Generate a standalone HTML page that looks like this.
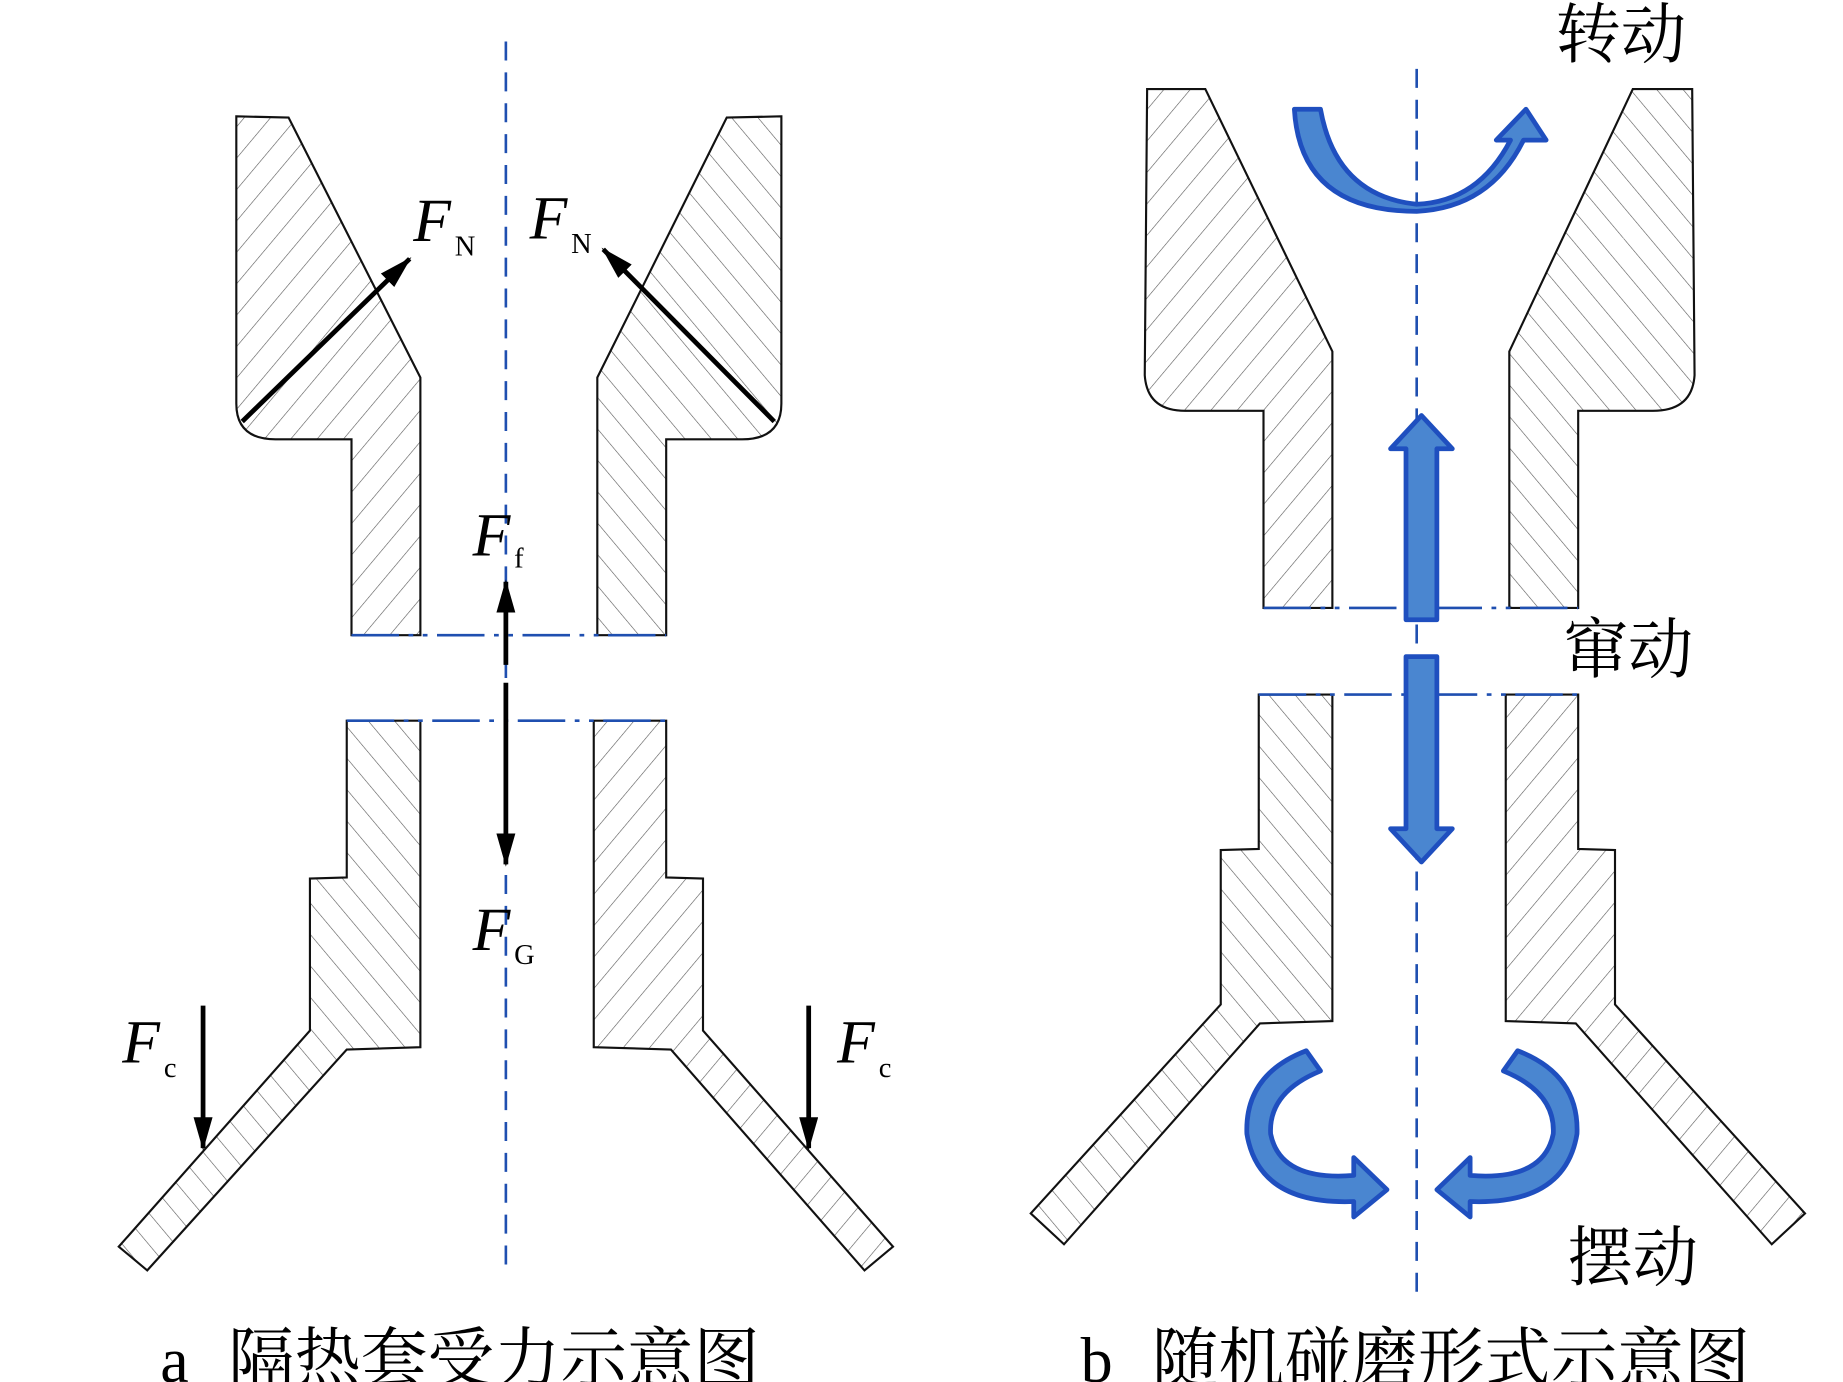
<!DOCTYPE html>
<html><head><meta charset="utf-8"><style>
html,body{margin:0;padding:0;background:#fff;}
svg{display:block;}
</style></head><body>
<svg width="1843" height="1382" viewBox="0 0 1552 1164" preserveAspectRatio="none" xmlns="http://www.w3.org/2000/svg">
<defs>
<pattern id="hr" patternUnits="userSpaceOnUse" width="17" height="17" patternTransform="rotate(40)">
<line x1="0" y1="0" x2="0" y2="17" stroke="#555" stroke-width="1"/></pattern>
<pattern id="hl" patternUnits="userSpaceOnUse" width="17" height="17" patternTransform="rotate(-40)">
<line x1="0" y1="0" x2="0" y2="17" stroke="#555" stroke-width="1"/></pattern>
<marker id="ah" markerWidth="28" markerHeight="16" refX="26" refY="8" orient="auto" markerUnits="userSpaceOnUse" viewBox="0 0 28 16">
<path d="M0,0 L28,8 L0,16 Z" fill="#000"/></marker>
</defs>
<g fill="none" stroke="#111" stroke-width="1.8">
<path fill="url(#hr)" d="M199,98 L243,99 L354,318 L354,535 L296,535 L296,370 L232,370 Q199,370 199,340 Z"/>
<path fill="url(#hl)" d="M658,98 L612,99 L503,318 L503,535 L561,535 L561,370 L625,370 Q658,370 658,340 Z"/>
<path fill="url(#hl)" d="M292,607 L354,607 L354,882 L292,884 L124,1070 L100,1050 L261,868 L261,740 L292,739 Z"/>
<path fill="url(#hr)" d="M500,607 L561,607 L561,739 L592,740 L592,868 L752,1050 L728,1070 L565,884 L500,882 Z"/>
<path fill="url(#hr)" d="M966,75 L1015,75 L1122,296 L1122,512 L1064,512 L1064,346 L998,346 Q966,346 964,316 Z"/>
<path fill="url(#hl)" d="M1425,75 L1375,75 L1271,296 L1271,512 L1329,512 L1329,346 L1392,346 Q1425,346 1427,316 Z"/>
<path fill="url(#hl)" d="M1060,585 L1122,585 L1122,860 L1061,862 L896,1048 L868,1022 L1028,846 L1028,716 L1060,715 Z"/>
<path fill="url(#hr)" d="M1268,585 L1329,585 L1329,715 L1360,716 L1360,846 L1520,1022 L1492,1048 L1327,862 L1268,860 Z"/>
</g>
<g stroke="#1f4fb0" stroke-width="2.2" fill="none">
<line x1="426" y1="35" x2="426" y2="1068" stroke-dasharray="16,10"/>
<line x1="1193" y1="58" x2="1193" y2="1090" stroke-dasharray="16,10"/>
<line x1="296" y1="535" x2="561" y2="535" stroke-dasharray="40,8,4,8,4,8"/>
<line x1="292" y1="607" x2="561" y2="607" stroke-dasharray="40,8,4,8,4,8"/>
<line x1="1064" y1="512" x2="1329" y2="512" stroke-dasharray="40,8,4,8,4,8"/>
<line x1="1060" y1="585" x2="1329" y2="585" stroke-dasharray="40,8,4,8,4,8"/>
</g>
<g stroke="#000" stroke-width="4" fill="none">
<line x1="204" y1="355" x2="345" y2="218" marker-end="url(#ah)"/>
<line x1="652" y1="355" x2="508" y2="210" marker-end="url(#ah)"/>
<line x1="426" y1="560" x2="426" y2="490" marker-end="url(#ah)"/>
<line x1="426" y1="575" x2="426" y2="728" marker-end="url(#ah)"/>
<line x1="171" y1="847" x2="171" y2="967" marker-end="url(#ah)"/>
<line x1="681" y1="847" x2="681" y2="967" marker-end="url(#ah)"/>
</g>
<g fill="#4a86d0" stroke="#1f4fbf" stroke-width="4" stroke-linejoin="round">
<path d="M1090,92 Q1095,178 1193,178 Q1255,175 1283,118 L1302,118 L1285,92 L1260,118 L1272,118 Q1245,170 1193,172 Q1125,165 1112,92 Z"/>
<path d="M1184,522 L1184,378 L1171,378 L1197,350 L1223,378 L1210,378 L1210,522 Z"/>
<path d="M1184,553 L1184,698 L1171,698 L1197,726 L1223,698 L1210,698 L1210,553 Z"/>
<path d="M1100,885 L1112,902 Q1068,920 1070,955 Q1078,995 1140,990 L1140,975 L1168,1002 L1140,1025 L1140,1012 Q1060,1015 1050,955 Q1048,905 1100,885 Z"/>
<path transform="translate(2378,0) scale(-1,1)" d="M1100,885 L1112,902 Q1068,920 1070,955 Q1078,995 1140,990 L1140,975 L1168,1002 L1140,1025 L1140,1012 Q1060,1015 1050,955 Q1048,905 1100,885 Z"/>
</g>
<g font-family="Liberation Serif, serif" fill="#000">
<text x="348" y="203" font-size="52" font-style="italic">F</text><text x="383" y="215" font-size="24">N</text>
<text x="446" y="201" font-size="52" font-style="italic">F</text><text x="481" y="213" font-size="24">N</text>
<text x="398" y="468" font-size="52" font-style="italic">F</text><text x="433" y="478" font-size="24">f</text>
<text x="398" y="800" font-size="52" font-style="italic">F</text><text x="433" y="812" font-size="24">G</text>
<text x="103" y="895" font-size="52" font-style="italic">F</text><text x="138" y="907" font-size="24">c</text>
<text x="705" y="895" font-size="52" font-style="italic">F</text><text x="740" y="907" font-size="24">c</text>
</g>
<g font-family="Liberation Serif, 'Noto Serif CJK SC', serif" fill="#000" font-size="55">
<text x="1310" y="48">转动</text>
<text x="1316" y="566">窜动</text>
<text x="1320" y="1078">摆动</text>
<text x="135" y="1164" font-size="54">a</text>
<text x="192" y="1164" font-size="56">隔热套受力示意图</text>
<text x="910" y="1164" font-size="54">b</text>
<text x="970" y="1164" font-size="56">随机碰磨形式示意图</text>
</g>
</svg>
</body></html>
